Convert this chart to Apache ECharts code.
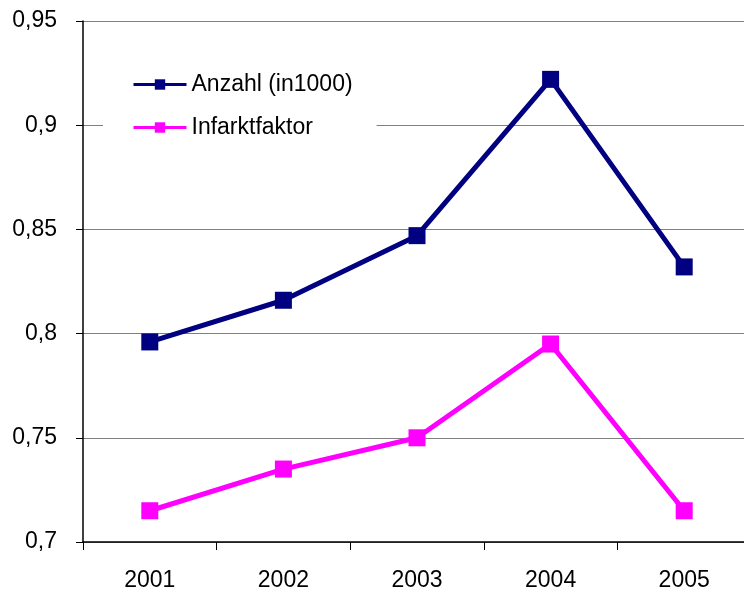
<!DOCTYPE html>
<html>
<head>
<meta charset="utf-8">
<script src="https://cdn.jsdelivr.net/npm/echarts@6/dist/echarts.min.js"></script>
<style>
  html, body { margin: 0; padding: 0; background: #fff; }
  #chart { width: 744px; height: 594px; }
</style>
</head>
<body>
<div id="chart"></div>
<script>
// Years on the category axis
const years = ['2001', '2002', '2003', '2004', '2005'];
// Series values
const anzahl = [0.796, 0.816, 0.847, 0.922, 0.832];
const infarktfaktor = [0.715, 0.735, 0.750, 0.795, 0.715];
// Value axis range
const yMin = 0.7, yMax = 0.95, yStep = 0.05;

const font = 'Liberation Sans, Arial, sans-serif';
const chart = echarts.init(document.getElementById('chart'), null, { renderer: 'canvas' });

chart.setOption({
  animation: false,
  backgroundColor: '#fff',
  textStyle: { fontFamily: font },
  // plot area runs slightly past the right edge of the canvas
  grid: { left: 83, top: 21, right: -7, bottom: 52, containLabel: false, outerBoundsMode: 'none' },
  legend: {
    left: 103, top: 59,
    orient: 'vertical',
    backgroundColor: '#fff',
    padding: [14, 24, 14, 29],
    itemGap: 20,
    itemWidth: 53,
    itemHeight: 13,
    lineStyle: { width: 3 },
    textStyle: { fontFamily: font, fontSize: 23, color: '#000' },
    data: ['Anzahl (in1000)', 'Infarktfaktor']
  },
  xAxis: {
    type: 'category',
    data: years,
    boundaryGap: true,
    axisLine: { lineStyle: { color: '#000', width: 1.5 } },
    axisTick: { show: true, alignWithLabel: false, length: 8, lineStyle: { color: '#000' } },
    axisLabel: { fontFamily: font, fontSize: 23, color: '#000', margin: 27 },
    splitLine: { show: false }
  },
  yAxis: {
    type: 'value',
    min: yMin, max: yMax, interval: yStep,
    axisLine: { show: true, lineStyle: { color: '#000', width: 1.5 } },
    axisTick: { show: true, length: 7, lineStyle: { color: '#000' } },
    axisLabel: {
      fontFamily: font, fontSize: 23, color: '#000', margin: 26,
      formatter: v => String(+v.toFixed(2)).replace('.', ',')
    },
    splitLine: { show: true, lineStyle: { color: '#808080', width: 1 } }
  },
  series: [
    {
      name: 'Anzahl (in1000)',
      type: 'line',
      data: anzahl,
      symbol: 'rect',
      symbolSize: 17,
      lineStyle: { color: '#000080', width: 5 },
      itemStyle: { color: '#000080' }
    },
    {
      name: 'Infarktfaktor',
      type: 'line',
      data: infarktfaktor,
      symbol: 'rect',
      symbolSize: 17,
      lineStyle: { color: '#FF00FF', width: 5 },
      itemStyle: { color: '#FF00FF' }
    }
  ]
});
</script>
</body>
</html>
